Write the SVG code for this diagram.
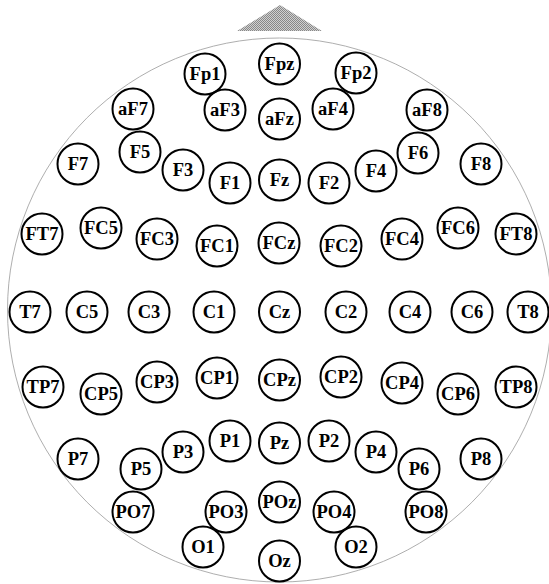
<svg xmlns="http://www.w3.org/2000/svg" width="549" height="584" viewBox="0 0 549 584">
<style>
.e circle{fill:none;stroke:#000;stroke-width:2}
.e text{font-family:"Liberation Serif","DejaVu Serif",serif;font-weight:bold;font-size:18.5px;text-anchor:middle;fill:#000}
.head{fill:none;stroke:#999;stroke-width:0.8}
</style>
<defs>
<pattern id="hatch" width="2" height="2" patternUnits="userSpaceOnUse">
<rect width="2" height="2" fill="#d0d0d0"/>
<rect width="1" height="1" fill="#888"/>
<rect x="1" y="1" width="1" height="1" fill="#888"/>
</pattern>
</defs>
<g id="head">
<circle class="head" cx="279.5" cy="310" r="272"/>
<polygon id="nose" points="237,31 280,5 322,31" fill="url(#hatch)"/>
</g>
<g id="connectors"></g>
<g class="e">
<g id="Fpz"><circle cx="279.5" cy="64" r="20.5"/><text x="279.5" y="70">Fpz</text></g>
<g id="Fp1"><circle cx="205" cy="74" r="20.5"/><text x="205" y="80">Fp1</text></g>
<g id="Fp2"><circle cx="356" cy="73" r="20.5"/><text x="356" y="79">Fp2</text></g>
<g id="aF7"><circle cx="133" cy="109" r="20.5"/><text x="133" y="115">aF7</text></g>
<g id="aF3"><circle cx="225" cy="110" r="20.5"/><text x="225" y="116">aF3</text></g>
<g id="aFz"><circle cx="279.5" cy="119" r="20.5"/><text x="279.5" y="125">aFz</text></g>
<g id="aF4"><circle cx="333" cy="109" r="20.5"/><text x="333" y="115">aF4</text></g>
<g id="aF8"><circle cx="427" cy="110" r="20.5"/><text x="427" y="116">aF8</text></g>
<g id="F7"><circle cx="78" cy="164" r="20.5"/><text x="78" y="170">F7</text></g>
<g id="F5"><circle cx="140" cy="152" r="20.5"/><text x="140" y="158">F5</text></g>
<g id="F3"><circle cx="183" cy="170" r="20.5"/><text x="183" y="176">F3</text></g>
<g id="F1"><circle cx="230" cy="183" r="20.5"/><text x="230" y="189">F1</text></g>
<g id="Fz"><circle cx="279.5" cy="180" r="20.5"/><text x="279.5" y="186">Fz</text></g>
<g id="F2"><circle cx="329" cy="183" r="20.5"/><text x="329" y="189">F2</text></g>
<g id="F4"><circle cx="376" cy="171" r="20.5"/><text x="376" y="177">F4</text></g>
<g id="F6"><circle cx="418" cy="153" r="20.5"/><text x="418" y="159">F6</text></g>
<g id="F8"><circle cx="481" cy="164" r="20.5"/><text x="481" y="170">F8</text></g>
<g id="FT7"><circle cx="42" cy="234" r="20.5"/><text x="42" y="240">FT7</text></g>
<g id="FC5"><circle cx="101" cy="228" r="20.5"/><text x="101" y="234">FC5</text></g>
<g id="FC3"><circle cx="157" cy="239" r="20.5"/><text x="157" y="245">FC3</text></g>
<g id="FC1"><circle cx="217" cy="246" r="20.5"/><text x="217" y="252">FC1</text></g>
<g id="FCz"><circle cx="279" cy="243" r="20.5"/><text x="279" y="249">FCz</text></g>
<g id="FC2"><circle cx="341" cy="246" r="20.5"/><text x="341" y="252">FC2</text></g>
<g id="FC4"><circle cx="402" cy="239" r="20.5"/><text x="402" y="245">FC4</text></g>
<g id="FC6"><circle cx="458" cy="228" r="20.5"/><text x="458" y="234">FC6</text></g>
<g id="FT8"><circle cx="516" cy="234" r="20.5"/><text x="516" y="240">FT8</text></g>
<g id="T7"><circle cx="30" cy="312" r="20.5"/><text x="30" y="318">T7</text></g>
<g id="C5"><circle cx="87" cy="312" r="20.5"/><text x="87" y="318">C5</text></g>
<g id="C3"><circle cx="149" cy="312" r="20.5"/><text x="149" y="318">C3</text></g>
<g id="C1"><circle cx="214" cy="312" r="20.5"/><text x="214" y="318">C1</text></g>
<g id="Cz"><circle cx="279.5" cy="312" r="20.5"/><text x="279.5" y="318">Cz</text></g>
<g id="C2"><circle cx="346" cy="312" r="20.5"/><text x="346" y="318">C2</text></g>
<g id="C4"><circle cx="410" cy="312" r="20.5"/><text x="410" y="318">C4</text></g>
<g id="C6"><circle cx="472" cy="312" r="20.5"/><text x="472" y="318">C6</text></g>
<g id="T8"><circle cx="528" cy="312" r="20.5"/><text x="528" y="318">T8</text></g>
<g id="TP7"><circle cx="43" cy="387" r="20.5"/><text x="43" y="393">TP7</text></g>
<g id="CP5"><circle cx="101" cy="394" r="20.5"/><text x="101" y="400">CP5</text></g>
<g id="CP3"><circle cx="157" cy="382" r="20.5"/><text x="157" y="388">CP3</text></g>
<g id="CP1"><circle cx="217" cy="378" r="20.5"/><text x="217" y="384">CP1</text></g>
<g id="CPz"><circle cx="279.5" cy="380" r="20.5"/><text x="279.5" y="386">CPz</text></g>
<g id="CP2"><circle cx="341" cy="377" r="20.5"/><text x="341" y="383">CP2</text></g>
<g id="CP4"><circle cx="402" cy="383" r="20.5"/><text x="402" y="389">CP4</text></g>
<g id="CP6"><circle cx="458" cy="394" r="20.5"/><text x="458" y="400">CP6</text></g>
<g id="TP8"><circle cx="516" cy="387" r="20.5"/><text x="516" y="393">TP8</text></g>
<g id="P7"><circle cx="78" cy="459" r="20.5"/><text x="78" y="465">P7</text></g>
<g id="P5"><circle cx="141" cy="469" r="20.5"/><text x="141" y="475">P5</text></g>
<g id="P3"><circle cx="183" cy="452" r="20.5"/><text x="183" y="458">P3</text></g>
<g id="P1"><circle cx="230" cy="441" r="20.5"/><text x="230" y="447">P1</text></g>
<g id="Pz"><circle cx="279.5" cy="443" r="20.5"/><text x="279.5" y="449">Pz</text></g>
<g id="P2"><circle cx="329" cy="441" r="20.5"/><text x="329" y="447">P2</text></g>
<g id="P4"><circle cx="376" cy="452" r="20.5"/><text x="376" y="458">P4</text></g>
<g id="P6"><circle cx="419" cy="469" r="20.5"/><text x="419" y="475">P6</text></g>
<g id="P8"><circle cx="481" cy="459" r="20.5"/><text x="481" y="465">P8</text></g>
<g id="PO7"><circle cx="133" cy="512" r="20.5"/><text x="133" y="518">PO7</text></g>
<g id="PO3"><circle cx="226" cy="512" r="20.5"/><text x="226" y="518">PO3</text></g>
<g id="POz"><circle cx="279.5" cy="502" r="20.5"/><text x="279.5" y="508">POz</text></g>
<g id="PO4"><circle cx="334" cy="512" r="20.5"/><text x="334" y="518">PO4</text></g>
<g id="PO8"><circle cx="426" cy="512" r="20.5"/><text x="426" y="518">PO8</text></g>
<g id="O1"><circle cx="203" cy="547" r="20.5"/><text x="203" y="553">O1</text></g>
<g id="Oz"><circle cx="279.5" cy="561" r="20.5"/><text x="279.5" y="567">Oz</text></g>
<g id="O2"><circle cx="356" cy="547" r="20.5"/><text x="356" y="553">O2</text></g>
</g>
</svg>
